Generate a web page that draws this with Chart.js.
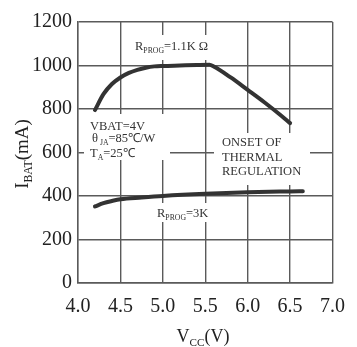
<!DOCTYPE html>
<html>
<head>
<meta charset="utf-8">
<script src="https://cdn.jsdelivr.net/npm/chart.js@4"></script>
<style>
    html, body { margin: 0; padding: 0; background: #fff; }
    #wrap { width: 357px; height: 347px; }
</style>
</head>
<body>
<div id="wrap"><canvas id="chart" width="357" height="347"></canvas></div>
<script>
// R_PROG = 1.1K curve
const vccHigh = [4.2, 4.3, 4.4, 4.5, 4.6, 4.7, 4.8, 4.9, 5.0, 5.2, 5.4, 5.55, 5.6, 5.8, 6.0, 6.2, 6.4, 6.5];
const ibatHigh = [795, 868, 915, 945, 966, 980, 990, 996, 998, 1000, 1002, 1003, 995, 945, 888, 830, 768, 735];

// R_PROG = 3K curve
const vccLow = [4.2, 4.3, 4.4, 4.5, 4.75, 5.0, 5.5, 6.0, 6.5, 6.65];
const ibatLow = [352, 367, 377, 385, 393, 400, 410, 417, 421, 422];

const xTicks = [4.0, 4.5, 5.0, 5.5, 6.0, 6.5, 7.0];
const yTicks = [0, 200, 400, 600, 800, 1000, 1200];

const SERIF = '"Liberation Serif", "Times New Roman", serif';
const INK = '#333';
const GRID = '#5a5a5a';

// draw a string made of normal / subscript parts
function richText(ctx, parts, x, y, size, align) {
    let total = 0;
    parts.forEach(p => {
        ctx.font = (p.sub ? size * 0.62 : size) + 'px ' + SERIF;
        total += ctx.measureText(p.t).width;
    });
    let cx = align === 'center' ? x - total / 2 : x;
    ctx.textBaseline = 'alphabetic';
    ctx.textAlign = 'left';
    parts.forEach(p => {
        const s = p.sub ? size * 0.62 : size;
        ctx.font = s + 'px ' + SERIF;
        ctx.fillText(p.t, cx, y + (p.sub ? size * 0.22 : 0));
        cx += ctx.measureText(p.t).width;
    });
}

// labels inside the plot, each with a white box that cuts the grid
const notes = [
    { box: [131, 35, 82, 25], lines: [{ x: 135, y: 50, parts: [{ t: 'R' }, { t: 'PROG', sub: true }, { t: '=1.1K Ω' }] }] },
    { box: [84, 114, 86, 46], lines: [
        { x: 90, y: 130, parts: [{ t: 'VBAT=4V' }] },
        { x: 92, y: 142, parts: [{ t: 'θ' }, { t: ' JA', sub: true }, { t: '=85℃/W' }] },
        { x: 90, y: 157, parts: [{ t: 'T' }, { t: 'A', sub: true }, { t: '=25℃' }] }
    ] },
    { box: [214, 133, 96, 52], lines: [
        { x: 222, y: 146, parts: [{ t: 'ONSET OF' }] },
        { x: 222, y: 161, parts: [{ t: 'THERMAL' }] },
        { x: 222, y: 175, parts: [{ t: 'REGULATION' }] }
    ] },
    { box: [151, 203, 64, 19], lines: [{ x: 157, y: 217, parts: [{ t: 'R' }, { t: 'PROG', sub: true }, { t: '=3K' }] }] }
];

const textPlugin = {
    id: 'textPlugin',
    beforeDatasetsDraw(chart) {
        const ctx = chart.ctx;
        ctx.save();
        notes.forEach(n => {
            ctx.fillStyle = '#fff';
            ctx.fillRect(n.box[0], n.box[1], n.box[2], n.box[3]);
            ctx.fillStyle = INK;
            n.lines.forEach(l => richText(ctx, l.parts, l.x, l.y, 12.5, 'left'));
        });
        ctx.restore();
    },
    afterDraw(chart) {
        const ctx = chart.ctx;
        ctx.save();
        ctx.fillStyle = '#222';
        // x axis title
        richText(ctx, [{ t: 'V' }, { t: 'CC', sub: true }, { t: '(V)' }], 203, 342, 18, 'center');
        // y axis title
        ctx.translate(28, 154);
        ctx.rotate(-Math.PI / 2);
        richText(ctx, [{ t: 'I' }, { t: 'BAT', sub: true }, { t: '(mA)' }], 0, 0, 19, 'center');
        ctx.restore();
    }
};

new Chart(document.getElementById('chart').getContext('2d'), {
    type: 'line',
    data: {
        datasets: [
            {
                label: 'RPROG=1.1K',
                data: vccHigh.map((v, i) => ({ x: v, y: ibatHigh[i] })),
                borderColor: INK,
                borderWidth: 4,
                pointRadius: 0,
                tension: 0.4,
                cubicInterpolationMode: 'monotone',
                borderCapStyle: 'round'
            },
            {
                label: 'RPROG=3K',
                data: vccLow.map((v, i) => ({ x: v, y: ibatLow[i] })),
                borderColor: INK,
                borderWidth: 4,
                pointRadius: 0,
                tension: 0.4,
                cubicInterpolationMode: 'monotone',
                borderCapStyle: 'round'
            }
        ]
    },
    options: {
        responsive: false,
        animation: false,
        layout: { padding: { top: 22, right: 17, left: 0, bottom: 0 } },
        plugins: {
            legend: { display: false },
            tooltip: { enabled: false }
        },
        scales: {
            x: {
                type: 'linear',
                min: 4,
                max: 7,
                afterBuildTicks: s => { s.ticks = xTicks.map(v => ({ value: v })); },
                afterFit: s => { s.height = 64; },
                ticks: {
                    callback: v => v.toFixed(1),
                    font: { family: SERIF, size: 20 },
                    color: '#222',
                    padding: 12,
                    maxRotation: 0
                },
                grid: { color: GRID, lineWidth: 1.4, drawTicks: false },
                border: { color: GRID, width: 1.4 }
            },
            y: {
                min: 0,
                max: 1200,
                afterBuildTicks: s => { s.ticks = yTicks.map(v => ({ value: v })); },
                afterFit: s => { s.width = 78; },
                ticks: {
                    callback: v => String(v),
                    font: { family: SERIF, size: 20 },
                    color: '#222',
                    padding: 6
                },
                grid: { color: GRID, lineWidth: 1.4, drawTicks: false },
                border: { color: GRID, width: 1.4 }
            }
        }
    },
    plugins: [textPlugin]
});
</script>
</body>
</html>
